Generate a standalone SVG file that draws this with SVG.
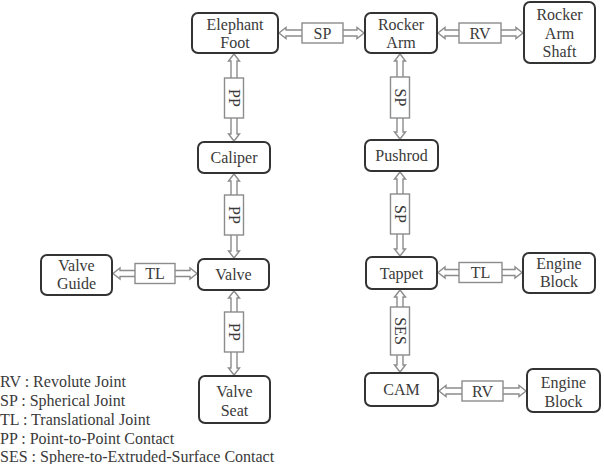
<svg xmlns="http://www.w3.org/2000/svg" width="604" height="464" viewBox="0 0 604 464">
<style>
text{font-family:'Liberation Serif','Times New Roman',Tinos,'Noto Serif','DejaVu Serif',serif;font-size:16px;fill:#3a3a3a;text-anchor:middle}
.node rect{fill:#fff;stroke:#333;stroke-width:2}
.conn path{fill:#fff;stroke:#8c8c8c;stroke-width:1.4;stroke-linejoin:miter}
.conn rect{fill:#fff;stroke:#8c8c8c;stroke-width:1.4}
.legend text{text-anchor:start}
</style>
<rect width="604" height="464" fill="#fff"/>
<g font-family="Liberation Serif, Times New Roman, serif">
<g id="connectors" class="conn">
  <g id="c-ef-ra">
    <path d="M302 30 H286 V27.5 L279 33 L286 38.5 V36 H302"/>
    <path d="M343 30 H357 V27.5 L364 33 L357 38.5 V36 H343"/>
    <rect x="302" y="23" width="41" height="20"/><text x="322.5" y="38.5">SP</text>
  </g>
  <g id="c-ra-ras">
    <path d="M459 30 H445 V27.5 L438 33 L445 38.5 V36 H459"/>
    <path d="M501 30 H516 V27.5 L523 33 L516 38.5 V36 H501"/>
    <rect x="459" y="23" width="42" height="20"/><text x="480" y="38.5">RV</text>
  </g>
  <g id="c-vg-v">
    <path d="M135 270.5 H120 V268 L113 273.5 L120 279 V276.5 H135"/>
    <path d="M175 270.5 H190 V268 L197 273.5 L190 279 V276.5 H175"/>
    <rect x="135" y="263.5" width="40" height="20"/><text x="155" y="279">TL</text>
  </g>
  <g id="c-t-eb">
    <path d="M459 269.5 H445 V267 L438 272.5 L445 278 V275.5 H459"/>
    <path d="M502 269.5 H515 V267 L522 272.5 L515 278 V275.5 H502"/>
    <rect x="459" y="262.5" width="43" height="20"/><text x="480.5" y="278">TL</text>
  </g>
  <g id="c-cam-eb">
    <path d="M462 388 H446 V385.5 L439 391 L446 396.5 V394 H462"/>
    <path d="M503 388 H519 V385.5 L526 391 L519 396.5 V394 H503"/>
    <rect x="462" y="381" width="41" height="20"/><text x="482.5" y="396.5">RV</text>
  </g>
  <g id="c-ef-cal">
    <path d="M231 78 V61 H228.5 L234 54 L239.5 61 H237 V78"/>
    <path d="M231 118 V134 H228.5 L234 141 L239.5 134 H237 V118"/>
    <rect x="224.5" y="78" width="19" height="40"/><text transform="translate(234,98) rotate(90)" dy="5.5">PP</text>
  </g>
  <g id="c-cal-v">
    <path d="M231 195 V181 H228.5 L234 174 L239.5 181 H237 V195"/>
    <path d="M231 235 V251 H228.5 L234 258 L239.5 251 H237 V235"/>
    <rect x="224.5" y="195" width="19" height="40"/><text transform="translate(234,215) rotate(90)" dy="5.5">PP</text>
  </g>
  <g id="c-v-vs">
    <path d="M231 312 V298 H228.5 L234 291 L239.5 298 H237 V312"/>
    <path d="M231 352 V368 H228.5 L234 375 L239.5 368 H237 V352"/>
    <rect x="224.5" y="312" width="19" height="40"/><text transform="translate(234,332) rotate(90)" dy="5.5">PP</text>
  </g>
  <g id="c-ra-pr">
    <path d="M397 77 V61 H394.5 L400 54 L405.5 61 H403 V77"/>
    <path d="M397 118 V132 H394.5 L400 139 L405.5 132 H403 V118"/>
    <rect x="390.5" y="77" width="19" height="41"/><text transform="translate(400,97.5) rotate(90)" dy="5.5">SP</text>
  </g>
  <g id="c-pr-t">
    <path d="M397 194 V179 H394.5 L400 172 L405.5 179 H403 V194"/>
    <path d="M397 234 V249 H394.5 L400 256 L405.5 249 H403 V234"/>
    <rect x="390.5" y="194" width="19" height="40"/><text transform="translate(400,214) rotate(90)" dy="5.5">SP</text>
  </g>
  <g id="c-t-cam">
    <path d="M397 307 V297 H394.5 L400 290 L405.5 297 H403 V307"/>
    <path d="M397 355 V365 H394.5 L400 372 L405.5 365 H403 V355"/>
    <rect x="390.5" y="307" width="19" height="48"/><text transform="translate(400,331) rotate(90)" dy="5.5">SES</text>
  </g>
</g>
<g id="elephant-foot" class="node"><rect x="192" y="13" width="86" height="40" rx="6"/><text x="235" y="30">Elephant</text><text x="235" y="48">Foot</text></g>
<g id="rocker-arm" class="node"><rect x="365" y="13" width="72" height="40" rx="6"/><text x="401" y="30">Rocker</text><text x="401" y="48">Arm</text></g>
<g id="rocker-arm-shaft" class="node"><rect x="524" y="2" width="71" height="61" rx="6"/><text x="559.5" y="20">Rocker</text><text x="559.5" y="38.5">Arm</text><text x="559.5" y="57">Shaft</text></g>
<g id="caliper" class="node"><rect x="198" y="142" width="72" height="31" rx="6"/><text x="234" y="163">Caliper</text></g>
<g id="pushrod" class="node"><rect x="365" y="140" width="73" height="31" rx="6"/><text x="401.5" y="161">Pushrod</text></g>
<g id="valve" class="node"><rect x="198" y="259" width="71" height="31" rx="6"/><text x="233.5" y="280">Valve</text></g>
<g id="valve-guide" class="node"><rect x="41" y="255" width="71" height="40" rx="6"/><text x="76.5" y="271">Valve</text><text x="76.5" y="289">Guide</text></g>
<g id="tappet" class="node"><rect x="366" y="257" width="71" height="32" rx="6"/><text x="401.5" y="278.5">Tappet</text></g>
<g id="engine-block-1" class="node"><rect x="523" y="253" width="72" height="40" rx="6"/><text x="559" y="269">Engine</text><text x="559" y="287">Block</text></g>
<g id="valve-seat" class="node"><rect x="199" y="376" width="71" height="47" rx="6"/><text x="234.5" y="397">Valve</text><text x="234.5" y="416">Seat</text></g>
<g id="cam" class="node"><rect x="365" y="373" width="73" height="33" rx="6"/><text x="401.5" y="395">CAM</text></g>
<g id="engine-block-2" class="node"><rect x="527" y="369" width="73" height="43" rx="6"/><text x="563.5" y="388">Engine</text><text x="563.5" y="407">Block</text></g>
<g id="legend" class="legend">
  <text x="0" y="387">RV : Revolute Joint</text>
  <text x="0" y="406">SP : Spherical Joint</text>
  <text x="0" y="425">TL : Translational Joint</text>
  <text x="0" y="444">PP : Point-to-Point Contact</text>
  <text x="0" y="462">SES : Sphere-to-Extruded-Surface Contact</text>
</g>
</g>
</svg>
